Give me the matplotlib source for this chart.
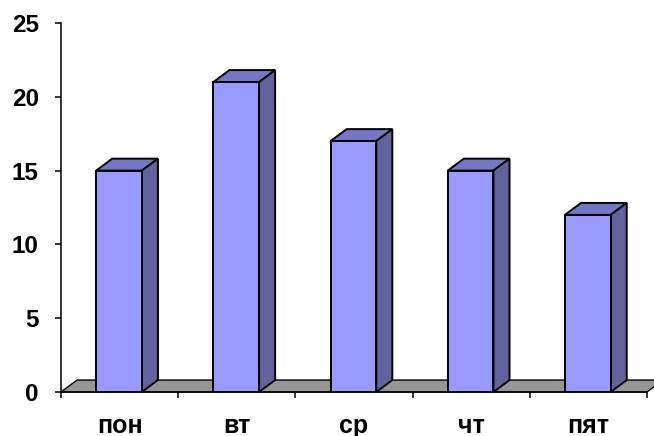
import matplotlib.pyplot as plt
from matplotlib.patches import Polygon

# data
days = ['пон', 'вт', 'ср', 'чт', 'пят']
values = [15, 21, 17, 15, 12]
y_ticks = [0, 5, 10, 15, 20, 25]

# look of the fake 3d
front_color = '#9999ff'
top_color = '#7676c6'
side_color = '#62629f'
floor_color = '#969696'
depth_x = 0.137   # in category units
depth_y = 0.81    # in value units
bar_width = 0.39

plt.rcParams['font.family'] = ['Liberation Sans', 'DejaVu Sans']

fig = plt.figure(figsize=(6.54, 4.36), dpi=100)
ax = fig.add_axes([61 / 654, 44 / 436, 586 / 654, 369 / 436])

n = len(days)
ax.set_xlim(0, n)
ax.set_ylim(0, 25)

# floor
floor = Polygon([(0, 0), (n, 0), (n + depth_x, depth_y), (depth_x, depth_y)],
                closed=True, facecolor=floor_color, edgecolor='black',
                linewidth=1.0, clip_on=False, zorder=1)
ax.add_patch(floor)

centers = [i + 0.495 for i in range(n)]
bars = ax.bar(centers, values, width=bar_width, color=front_color,
              edgecolor='black', linewidth=1.4, zorder=3)

for rect, v in zip(bars, values):
    x0 = rect.get_x()
    x1 = x0 + rect.get_width()
    top = Polygon([(x0, v), (x1, v), (x1 + depth_x, v + depth_y), (x0 + depth_x, v + depth_y)],
                  closed=True, facecolor=top_color, edgecolor='black',
                  linewidth=1.4, clip_on=False, zorder=2)
    side = Polygon([(x1, 0), (x1 + depth_x, depth_y), (x1 + depth_x, v + depth_y), (x1, v)],
                   closed=True, facecolor=side_color, edgecolor='black',
                   linewidth=1.4, clip_on=False, zorder=2)
    ax.add_patch(top)
    ax.add_patch(side)

for s in ['top', 'right']:
    ax.spines[s].set_visible(False)
ax.spines['left'].set_linewidth(1.1)
ax.spines['bottom'].set_linewidth(1.1)
ax.spines['left'].set_zorder(5)
ax.spines['bottom'].set_zorder(5)

ax.set_yticks(y_ticks)
ax.tick_params(axis='y', direction='out', length=4.5, width=1.1, pad=11.5,
               labelsize=17.5)
for lab in ax.get_yticklabels():
    lab.set_fontweight('bold')

ax.set_xticks(range(n + 1))
ax.set_xticklabels([])
ax.tick_params(axis='x', which='major', direction='out', length=4.5, width=1.1)
ax.set_xticks([i + 0.5 for i in range(n)], minor=True)
ax.set_xticklabels(days, minor=True, fontsize=18, fontweight='bold')
ax.tick_params(axis='x', which='minor', length=0, pad=15.5)

ax.patch.set_alpha(0)
fig.savefig('out.png', dpi=100)
